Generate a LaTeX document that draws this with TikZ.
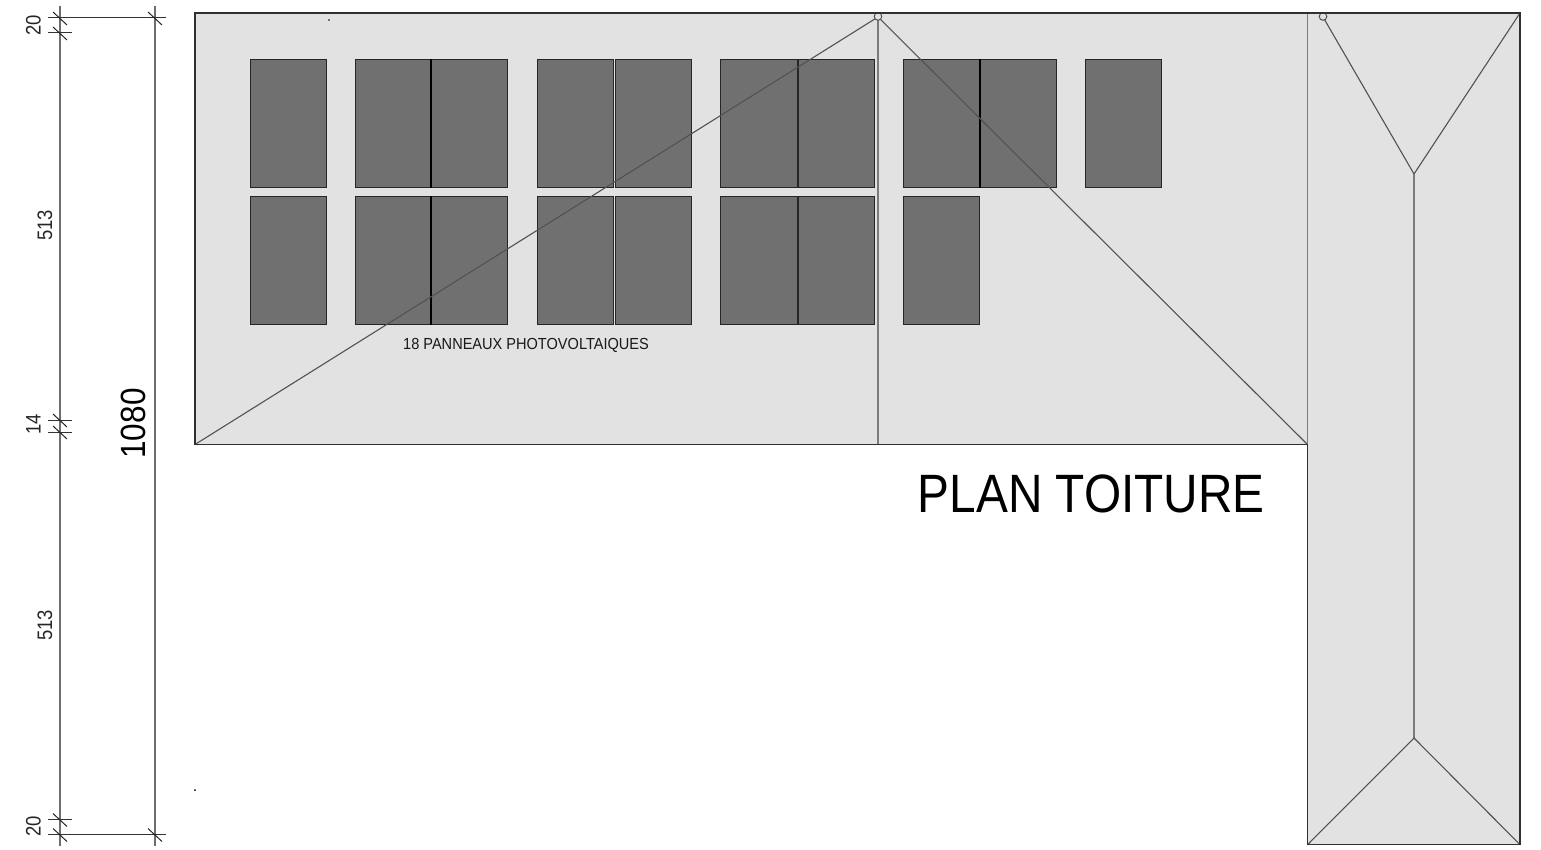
\documentclass[tikz,border=0pt]{standalone}
\usepackage{fontspec}
\setmainfont{Liberation Sans}
\definecolor{roof}{HTML}{E2E2E2}
\definecolor{panel}{HTML}{707070}
\definecolor{edge}{HTML}{303030}
\definecolor{ridge}{HTML}{525252}
\definecolor{fold}{HTML}{7C7C7C}
\definecolor{dimgrey}{HTML}{6E6E6E}
\tikzset{
  roofshape/.style={draw=edge,fill=roof,line width=1.5pt},
  ridgeline/.style={draw=ridge,line width=1.1pt},
  foldline/.style={draw=fold,line width=1.7pt},
  panelbox/.style={draw=black!85,fill=panel,line width=0.9pt},
  panelseam/.style={draw=black,line width=1.8pt},
  dimline/.style={draw=dimgrey,line width=1.5pt},
  dimext/.style={draw=black!80,line width=1pt},
  dimtick/.style={draw=black!85,line width=1pt},
  dimtext/.style={rotate=90,font=\fontsize{21}{21}\selectfont,text=black!85,inner sep=0pt},
  circlemark/.style={draw=ridge,fill=roof,line width=1pt},
}
\newcommand{\pvpanel}[4]{\draw[panelbox] (#1+.4,#3) rectangle (#2+.4,#4);}
\newcommand{\dimtk}[2]{\draw[dimtick] (#1-7,#2-6) -- (#1+7,#2+7);}
\newcommand{\cond}[2]{\scalebox{#1}[1]{#2}}
\begin{document}
\begin{tikzpicture}[x=1pt,y=-1pt]
\useasboundingbox (0,0) rectangle (1541,850);
% roof
\path[roofshape] (195,13) -- (1520,13) -- (1520,844.7) -- (1307.5,844.7) -- (1307.5,444.5) -- (195,444.5) -- cycle;
% panels
\foreach \a/\b in {250/326,355/431,431/507,537/613,615/691,720/797,798/874,903/979,980/1056,1085/1161}
  {\pvpanel{\a}{\b}{59.3}{187.7}}
\foreach \a/\b in {250/326,355/431,431/507,537/613,615/691,720/797,798/874,903/979}
  {\pvpanel{\a}{\b}{196.3}{324.7}}
\draw[panelseam] (431.2,59.3) -- (431.2,187.7);
\draw[panelseam] (431.2,196.3) -- (431.2,324.7);
\draw[panelseam] (979.8,59.3) -- (979.8,187.7);
% ridges
\coordinate (apex) at (878,17);
\coordinate (sw) at (195,444.5);
\coordinate (se) at (1307.5,444.5);
\coordinate (foot) at (878,444.5);
\coordinate (wl) at (1323,17);
\coordinate (wr) at (1520,13);
\coordinate (wt) at (1414,174);
\coordinate (wb) at (1414,738);
\coordinate (bl) at (1307.5,844.7);
\coordinate (br) at (1520,844.7);
\coordinate (valtop) at (1307.5,13);
\draw[ridgeline] (sw) -- (apex) -- (se);
\draw[foldline] (apex) -- (foot);
\draw[foldline] (valtop) -- (se);
\draw[ridgeline] (wl) -- (wt) -- (wr);
\draw[foldline] (wt) -- (wb);
\draw[ridgeline] (bl) -- (wb) -- (br);
\draw[circlemark] (878,16.5) circle (3.8);
\draw[circlemark] (1323,16.5) circle (3.8);
\path[roofshape,fill=none] (195,13) -- (1520,13) -- (1520,844.7) -- (1307.5,844.7) -- (1307.5,444.5) -- (195,444.5) -- cycle;
% specks
\fill[black] (329,20) circle (0.8);
\fill[black] (195,790) circle (1);
% dimensions
\draw[dimline] (60,6) -- (60,846);
\draw[dimline] (155,6) -- (155,846);
\draw[dimext] (48,18) -- (166,18);
\draw[dimext] (48,33) -- (71.5,33);
\draw[dimext] (48,420) -- (71.5,420);
\draw[dimext] (48,432) -- (71.5,432);
\draw[dimext] (48,819.5) -- (71.5,819.5);
\draw[dimext] (48,834.5) -- (166,834.5);
\foreach \y in {18,33,420,432,819.5,834.5} {\dimtk{60}{\y}}
\foreach \y in {18,834.5} {\dimtk{155}{\y}}
\node[dimtext] (d1) at (33.5,25.5) {\cond{.88}{20}};
\node[dimtext] (d2) at (45,225.5) {\cond{.88}{513}};
\node[dimtext] (d3) at (33.5,424) {\cond{.88}{14}};
\node[dimtext] (d4) at (45,625.5) {\cond{.88}{513}};
\node[dimtext] (d5) at (33.5,826) {\cond{.88}{20}};
\node[rotate=90,font=\fontsize{35}{35}\selectfont,inner sep=0pt] (dtot) at (133.5,423.5) {\cond{.9}{1080}};
\node[font=\fontsize{16}{16}\selectfont,inner sep=0pt,text=black!90] (lab) at (526,345.5) {\cond{.91}{18 PANNEAUX PHOTOVOLTAIQUES}};
\node[font=\fontsize{54}{54}\selectfont,inner sep=0pt] (title) at (1091.3,494) {\cond{.885}{PLAN TOITURE}};
\end{tikzpicture}
\end{document}
